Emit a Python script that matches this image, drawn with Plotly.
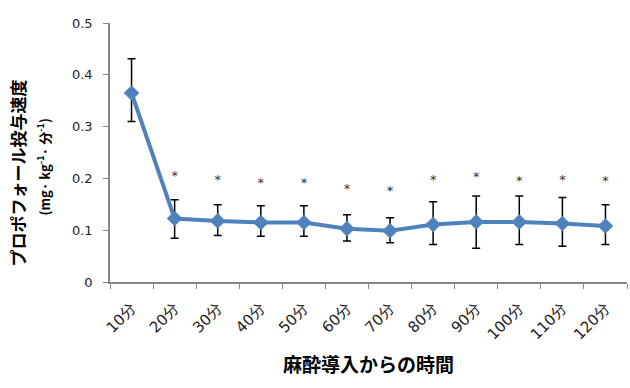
import plotly.graph_objects as go

categories = ["10分", "20分", "30分", "40分", "50分", "60分", "70分", "80分", "90分", "100分", "110分", "120分"]
mean_rate = [0.365, 0.1225, 0.118, 0.115, 0.115, 0.103, 0.099, 0.111, 0.116, 0.116, 0.113, 0.108]
upper_bound = [0.431, 0.159, 0.149, 0.147, 0.147, 0.130, 0.124, 0.155, 0.166, 0.166, 0.163, 0.149]
lower_bound = [0.310, 0.0846, 0.090, 0.0885, 0.0885, 0.079, 0.076, 0.0725, 0.065, 0.0725, 0.069, 0.0725]
star_categories = categories[1:]
star_y = [0.204, 0.196, 0.190, 0.190, 0.179, 0.175, 0.196, 0.202, 0.194, 0.196, 0.194]
y_ticks = [0, 0.1, 0.2, 0.3, 0.4, 0.5]
y_tick_labels = ["0", "0.1", "0.2", "0.3", "0.4", "0.5"]

err_plus = [u - m for u, m in zip(upper_bound, mean_rate)]
err_minus = [m - l for m, l in zip(mean_rate, lower_bound)]

blue = "#4F81BD"
axis_col = "#868686"
jp_font = "Noto Sans CJK JP"

fig = go.Figure()
fig.add_trace(go.Scatter(
    x=categories, y=mean_rate, mode="lines+markers",
    line=dict(color=blue, width=4),
    marker=dict(symbol="diamond", size=12, color=blue),
    error_y=dict(type="data", symmetric=False, array=err_plus, arrayminus=err_minus,
                 color="#000000", thickness=1.5, width=4),
    showlegend=False, hoverinfo="skip",
))
fig.add_trace(go.Scatter(
    x=star_categories, y=star_y, mode="text", text=["*"] * len(star_categories),
    textposition="middle center",
    textfont=dict(size=13, color="#333333", family="DejaVu Sans"),
    showlegend=False, hoverinfo="skip",
))

fig.update_layout(
    width=630, height=388,
    margin=dict(l=110, r=3, t=23, b=106),
    paper_bgcolor="white", plot_bgcolor="white",
    font=dict(family="DejaVu Sans", color="#222222"),
    xaxis=dict(
        type="category", categoryorder="array", categoryarray=categories,
        tickson="boundaries", ticks="outside", ticklen=5, tickcolor=axis_col,
        showline=True, linecolor=axis_col, linewidth=1.5,
        showgrid=False, zeroline=False, tickangle=-45,
        tickfont=dict(size=15, family="DejaVu Sans, " + jp_font, color="#222222"),
        ticklabelstandoff=10,
        range=[-0.5, len(categories) - 0.5],
    ),
    yaxis=dict(
        range=[0, 0.5], tickvals=y_ticks, ticktext=y_tick_labels,
        ticks="outside", ticklen=5, tickcolor=axis_col,
        showline=True, linecolor=axis_col, linewidth=1.5,
        showgrid=False, zeroline=False,
        ticklabelstandoff=8,
        tickfont=dict(size=13, family="DejaVu Sans", color="#222222"),
    ),
    annotations=[
        dict(text="<b>プロポフォール投与速度</b>", xref="paper", yref="paper",
             x=0, y=0.5, xanchor="center", yanchor="middle", xshift=-93, yshift=-21, textangle=-90,
             showarrow=False, font=dict(family=jp_font, size=17, color="#000000")),
        dict(text="<b>(mg· kg<sup>-1</sup>· 分<sup>-1</sup>)</b>", xref="paper", yref="paper",
             x=0, y=0.5, xanchor="center", yanchor="middle", xshift=-67, yshift=-15, textangle=-90,
             showarrow=False, font=dict(family=jp_font, size=13, color="#000000")),
        dict(text="<b>麻酔導入からの時間</b>", xref="paper", yref="paper",
             x=0.5, y=0, xanchor="center", yanchor="middle", yshift=-81,
             showarrow=False, font=dict(family=jp_font, size=19, color="#000000")),
    ],
)

fig.write_html("out.html")
